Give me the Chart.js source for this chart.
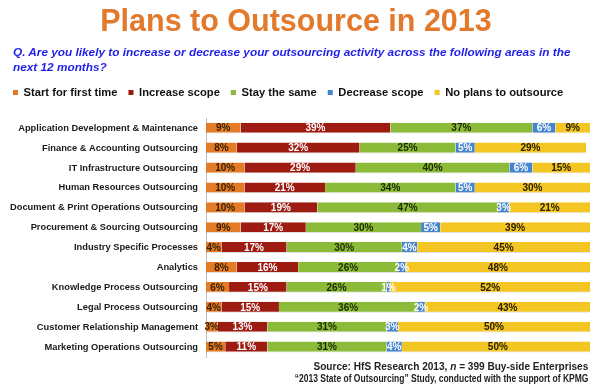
<!DOCTYPE html>
<html>
<head>
<meta charset="utf-8">
<script src="https://cdn.jsdelivr.net/npm/chart.js@4"></script>
<style>
  body { margin: 0; background: #fff; font-family: "Liberation Sans", Arial, sans-serif; }
  #wrap { position: relative; width: 600px; height: 389px; }
  #title { position: absolute; left: -4px; width: 600px; top: 3px; text-align: center; font-size: 30.5px; font-weight: bold; color: #E2792B; white-space: nowrap; }
  #question { position: absolute; left: 13px; top: 45px; font-size: 11.8px; line-height: 15px; font-weight: bold; font-style: italic; color: #1F1FE8; white-space: nowrap; }
  .foot { position: absolute; right: 12px; font-size: 10.5px; font-weight: bold; color: #222; white-space: nowrap; transform-origin: right top; }
  canvas { position: absolute; left: 0; top: 0; }
</style>
</head>
<body>
<div id="wrap">
  <canvas id="outsourceChart" width="600" height="389"></canvas>
  <div id="title">Plans to Outsource in 2013</div>
  <div id="question">Q. Are you likely to increase or decrease your outsourcing activity across the following areas in the<br>next 12 months?</div>
  <div class="foot" style="top:360px; transform: scaleX(0.96)">Source: HfS Research 2013, <i>n</i> = 399 Buy-side Enterprises</div>
  <div class="foot" style="top:373px; font-size: 10px; transform: scaleX(0.85)">&ldquo;2013 State of Outsourcing&rdquo; Study, conducted with the support of KPMG</div>
</div>
<script>
var FONT = '"Liberation Sans", Arial, sans-serif';

var areas = [
  'Application Development & Maintenance',
  'Finance & Accounting Outsourcing',
  'IT Infrastructure Outsourcing',
  'Human Resources Outsourcing',
  'Document & Print Operations Outsourcing',
  'Procurement & Sourcing Outsourcing',
  'Industry Specific Processes',
  'Analytics',
  'Knowledge Process Outsourcing',
  'Legal Process Outsourcing',
  'Customer Relationship Management',
  'Marketing Operations Outsourcing'
];
var startFirstTime = [9, 8, 10, 10, 10, 9, 4, 8, 6, 4, 3, 5];
var increaseScope  = [39, 32, 29, 21, 19, 17, 17, 16, 15, 15, 13, 11];
var stayTheSame    = [37, 25, 40, 34, 47, 30, 30, 26, 26, 36, 31, 31];
var decreaseScope  = [6, 5, 6, 5, 3, 5, 4, 2, 1, 2, 3, 4];
var noPlans        = [9, 29, 15, 30, 21, 39, 45, 48, 52, 43, 50, 50];

// labels inside the bars
var barLabels = {
  id: 'barLabels',
  afterDatasetsDraw: function(chart) {
    var ctx = chart.ctx;
    ctx.save();
    ctx.font = 'bold 10px ' + FONT;
    ctx.textAlign = 'center';
    ctx.textBaseline = 'middle';
    chart.data.datasets.forEach(function(ds, i) {
      var meta = chart.getDatasetMeta(i);
      meta.data.forEach(function(bar, j) {
        var x = (bar.x + bar.base) / 2;
        ctx.fillStyle = ds.labelColor;
        ctx.fillText(ds.data[j] + '%', x, bar.y + 0.5);
      });
    });
    ctx.restore();
  }
};

// a bit of space under the legend
var legendGap = {
  id: 'legendGap',
  beforeInit: function(chart) {
    var fit = chart.legend.fit;
    chart.legend.fit = function() {
      fit.bind(chart.legend)();
      this.height += 10;
    };
  }
};

function series(label, data, color, labelColor) {
  return {
    label: label,
    data: data,
    backgroundColor: color,
    borderColor: 'rgba(0,0,0,0.12)',
    borderWidth: { top: 0, bottom: 1, left: 0, right: 0 },
    borderSkipped: false,
    labelColor: labelColor,
    barPercentage: 0.55,
    categoryPercentage: 1.0
  };
}

new Chart(document.getElementById('outsourceChart'), {
  type: 'bar',
  data: {
    labels: areas,
    datasets: [
      series('Start for first time', startFirstTime, '#E37B27', '#3a2200'),
      series('Increase scope', increaseScope, '#9E1B12', '#ffffff'),
      series('Stay the same', stayTheSame, '#8CBB3A', '#1c2a00'),
      series('Decrease scope', decreaseScope, '#4585CF', '#ffffff'),
      series('No plans to outsource', noPlans, '#F3C623', '#2a2000')
    ]
  },
  options: {
    indexAxis: 'y',
    responsive: false,
    animation: false,
    layout: { padding: { top: 76, left: 2, right: 10, bottom: 32 } },
    plugins: {
      legend: {
        position: 'top',
        align: 'start',
        labels: {
          boxWidth: 5,
          boxHeight: 5,
          padding: 11,
          color: '#111',
          font: { family: FONT, size: 11.2, weight: 'bold' }
        }
      },
      tooltip: { enabled: false }
    },
    scales: {
      x: {
        stacked: true,
        min: 0,
        max: 100,
        display: false
      },
      y: {
        stacked: true,
        grid: { display: false, drawTicks: false },
        border: { color: '#bbb' },
        afterFit: function(scale) { scale.width = 204; },
        ticks: {
          padding: 8,
          color: '#1a1a1a',
          font: { family: FONT, size: 9.3, weight: 'bold' }
        }
      }
    }
  },
  plugins: [barLabels, legendGap]
});
</script>
</body>
</html>
